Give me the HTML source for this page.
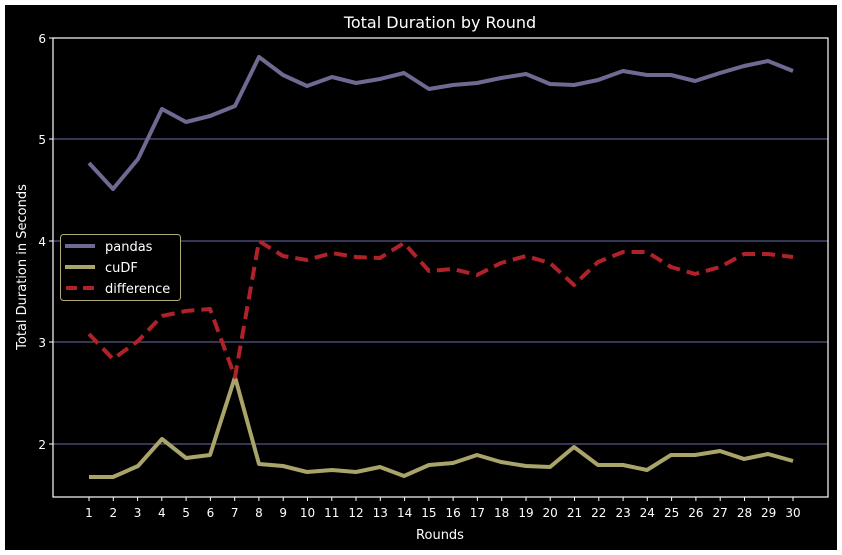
<!DOCTYPE html>
<html><head><style>
html,body{margin:0;padding:0;background:#fff;}
svg{display:block;font-family:"DejaVu Sans","Liberation Sans",sans-serif;}
</style></head><body>
<svg width="842" height="555" xmlns="http://www.w3.org/2000/svg">
<rect x="0" y="0" width="842" height="555" fill="#fff"/>
<rect x="5" y="5" width="832" height="545" fill="#000"/>
<text x="440" y="28" fill="#fff" font-size="16" text-anchor="middle">Total Duration by Round</text>
<g stroke="#6a6aa8" stroke-width="1">
<line x1="53" x2="828" y1="139" y2="139"/>
<line x1="53" x2="828" y1="241" y2="241"/>
<line x1="53" x2="828" y1="342" y2="342"/>
<line x1="53" x2="828" y1="444" y2="444"/>
</g>
<g fill="none" stroke-linejoin="round">
<polyline stroke="#6e6a92" stroke-width="4" points="89,163 113,189 138,159 162,109 186,122 210,116 235,106 259,57 283,75 307,86 332,77 356,83 380,79 404,73 429,89 453,85 477,83 501,78 526,74 550,84 574,85 598,80 623,71 647,75 671,75 695,81 720,73 744,66 768,61 793,71"/>
<polyline stroke="#a8a46a" stroke-width="4" points="89,477 113,477 138,466 162,439 186,458 210,455 235,377 259,464 283,466 307,472 332,470 356,472 380,467 404,476 429,465 453,463 477,455 501,462 526,466 550,467 574,447 598,465 623,465 647,470 671,455 695,455 720,451 744,459 768,454 793,461"/>
<polyline stroke="#b0222a" stroke-width="4" stroke-dasharray="13,7" points="89,334 113,359 138,341 162,316 186,311 210,309 235,377 259,241 283,256 307,260 332,253 356,257 380,258 404,243 429,271 453,269 477,275 501,263 526,256 550,263 574,285 598,262 623,252 647,252 671,267 695,274 720,267 744,254 768,254 793,257"/>
</g>
<rect x="53" y="38" width="775" height="459" fill="none" stroke="#fff" stroke-width="1.2"/>
<g fill="#fff" font-size="12" text-anchor="end">
<text x="46" y="43">6</text><text x="46" y="144">5</text><text x="46" y="246">4</text><text x="46" y="347">3</text><text x="46" y="449">2</text>
</g>
<g stroke="#fff"><line x1="49" x2="53" y1="38" y2="38"/><line x1="49" x2="53" y1="139" y2="139"/><line x1="49" x2="53" y1="241" y2="241"/><line x1="49" x2="53" y1="342" y2="342"/><line x1="49" x2="53" y1="444" y2="444"/></g>
<g stroke="#fff">
<line x1="89" x2="89" y1="497" y2="501"/><line x1="113.3" x2="113.3" y1="497" y2="501"/><line x1="137.6" x2="137.6" y1="497" y2="501"/><line x1="161.8" x2="161.8" y1="497" y2="501"/><line x1="186.1" x2="186.1" y1="497" y2="501"/><line x1="210.4" x2="210.4" y1="497" y2="501"/><line x1="234.7" x2="234.7" y1="497" y2="501"/><line x1="258.9" x2="258.9" y1="497" y2="501"/><line x1="283.2" x2="283.2" y1="497" y2="501"/><line x1="307.5" x2="307.5" y1="497" y2="501"/><line x1="331.8" x2="331.8" y1="497" y2="501"/><line x1="356" x2="356" y1="497" y2="501"/><line x1="380.3" x2="380.3" y1="497" y2="501"/><line x1="404.6" x2="404.6" y1="497" y2="501"/><line x1="428.9" x2="428.9" y1="497" y2="501"/><line x1="453.1" x2="453.1" y1="497" y2="501"/><line x1="477.4" x2="477.4" y1="497" y2="501"/><line x1="501.7" x2="501.7" y1="497" y2="501"/><line x1="526" x2="526" y1="497" y2="501"/><line x1="550.2" x2="550.2" y1="497" y2="501"/><line x1="574.5" x2="574.5" y1="497" y2="501"/><line x1="598.8" x2="598.8" y1="497" y2="501"/><line x1="623.1" x2="623.1" y1="497" y2="501"/><line x1="647.3" x2="647.3" y1="497" y2="501"/><line x1="671.6" x2="671.6" y1="497" y2="501"/><line x1="695.9" x2="695.9" y1="497" y2="501"/><line x1="720.2" x2="720.2" y1="497" y2="501"/><line x1="744.5" x2="744.5" y1="497" y2="501"/><line x1="768.7" x2="768.7" y1="497" y2="501"/><line x1="793" x2="793" y1="497" y2="501"/>
</g>
<g fill="#fff" font-size="12" text-anchor="middle">
<text x="89" y="517">1</text><text x="113.3" y="517">2</text><text x="137.6" y="517">3</text><text x="161.8" y="517">4</text><text x="186.1" y="517">5</text><text x="210.4" y="517">6</text><text x="234.7" y="517">7</text><text x="258.9" y="517">8</text><text x="283.2" y="517">9</text><text x="307.5" y="517">10</text><text x="331.8" y="517">11</text><text x="356" y="517">12</text><text x="380.3" y="517">13</text><text x="404.6" y="517">14</text><text x="428.9" y="517">15</text><text x="453.1" y="517">16</text><text x="477.4" y="517">17</text><text x="501.7" y="517">18</text><text x="526" y="517">19</text><text x="550.2" y="517">20</text><text x="574.5" y="517">21</text><text x="598.8" y="517">22</text><text x="623.1" y="517">23</text><text x="647.3" y="517">24</text><text x="671.6" y="517">25</text><text x="695.9" y="517">26</text><text x="720.2" y="517">27</text><text x="744.5" y="517">28</text><text x="768.7" y="517">29</text><text x="793" y="517">30</text>
</g>
<text x="440" y="539" fill="#fff" font-size="13" text-anchor="middle">Rounds</text>
<text transform="translate(26,267) rotate(-90)" fill="#fff" font-size="13" text-anchor="middle">Total Duration in Seconds</text>
<rect x="60.5" y="234.5" width="120" height="66" rx="3" fill="#000" stroke="#b0ac7a" stroke-width="1"/>
<line x1="65" x2="95" y1="246" y2="246" stroke="#6e6a92" stroke-width="4"/>
<line x1="65" x2="95" y1="267" y2="267" stroke="#a8a46a" stroke-width="4"/>
<line x1="66" x2="95" y1="288" y2="288" stroke="#b0222a" stroke-width="4" stroke-dasharray="11,6"/>
<g fill="#fff" font-size="13"><text x="105" y="251">pandas</text><text x="105" y="272">cuDF</text><text x="105" y="293">difference</text></g>
</svg>
</body></html>
